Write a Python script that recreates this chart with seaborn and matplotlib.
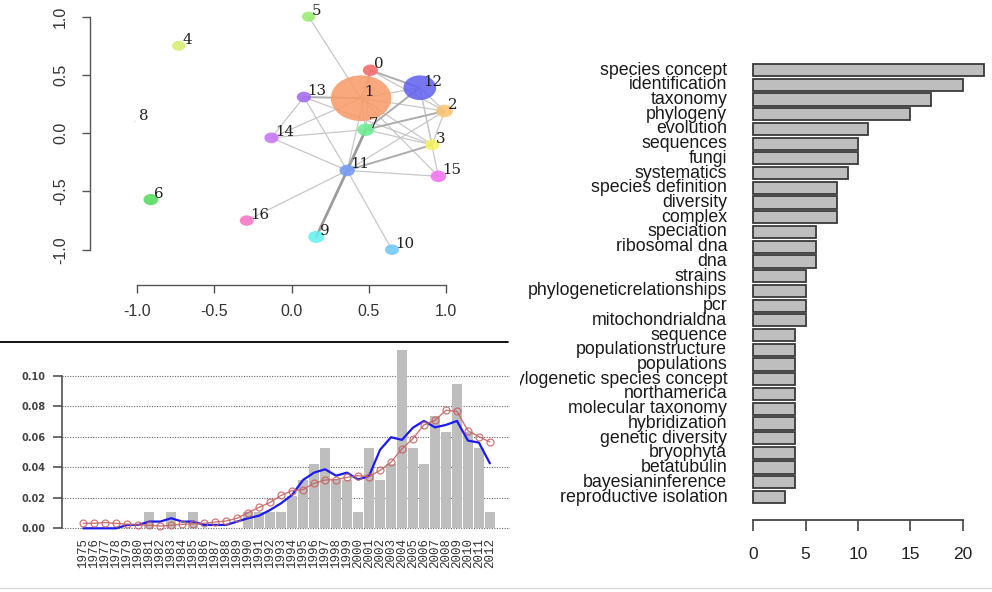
import numpy as np
import matplotlib
matplotlib.use("Agg")
import matplotlib.pyplot as plt
from matplotlib.patches import Circle
from matplotlib.lines import Line2D
from matplotlib.transforms import Bbox, TransformedBbox
import seaborn as sns

# ---------------- keyword co-occurrence network ----------------
node_x = [0.51, 0.45, 0.99, 0.91, -0.73, 0.11, -0.91, 0.48, -1.01, 0.16,
          0.65, 0.36, 0.83, 0.08, -0.13, 0.95, -0.29]
node_y = [0.54, 0.30, 0.19, -0.10, 0.75, 1.00, -0.57, 0.03, 0.10, -0.89,
          -1.00, -0.32, 0.39, 0.31, -0.04, -0.37, -0.75]
node_r = [0.049, 0.196, 0.054, 0.047, 0.043, 0.043, 0.048, 0.054, 0.004, 0.052,
          0.045, 0.050, 0.106, 0.046, 0.046, 0.050, 0.045]
node_colors = ["#F56A6A", "#F89C6A", "#F9C46E", "#F4F45E", "#D3F06E", "#96EE70",
               "#56DC5E", "#6CEC92", "#6CF0D6", "#64F2F2", "#72C8F6", "#7599F5",
               "#6363F0", "#A26AF0", "#C875F5", "#F472F0", "#F574C4"]
edge_src = [5, 0, 0, 0, 0, 0, 1, 1, 1, 1, 1, 1, 1, 12, 12, 12, 12,
            13, 13, 13, 14, 14, 7, 7, 7, 11, 11, 11, 11, 11, 11, 2]
edge_dst = [1, 1, 12, 2, 7, 11, 12, 13, 2, 7, 3, 15, 14, 2, 3, 15, 7,
            14, 11, 3, 7, 11, 2, 3, 11, 3, 2, 15, 9, 10, 16, 3]
edge_w = [1, 1, 2, 1, 1, 1, 1, 2, 1, 1, 1, 1, 1, 1, 1, 1, 2,
          1, 1, 1, 1, 1, 2, 1, 3, 2, 1, 1, 3, 1, 1, 1]
net_ticks = [-1.0, -0.5, 0.0, 0.5, 1.0]

# ---------------- yearly share of publications ----------------
years = list(range(1975, 2013))
share = [0, 0, 0, 0, 0, 0, 0.0105, 0, 0.0105, 0, 0.0105, 0, 0, 0, 0,
         0.0105, 0.0105, 0.0105, 0.0105, 0.021, 0.0316, 0.0421, 0.0526,
         0.0316, 0.0316, 0.0105, 0.0526, 0.0316, 0.0421, 0.1168, 0.0526,
         0.0421, 0.0737, 0.0632, 0.0947, 0.0632, 0.0526, 0.0105]
trend_blue = [0, 0, 0, 0, 0.0022, 0.0022, 0.0044, 0.0044, 0.0066, 0.0044,
              0.0044, 0.0022, 0.0022, 0.0022, 0.0044, 0.0066, 0.0083, 0.012,
              0.0164, 0.0219, 0.0317, 0.0365, 0.0387, 0.0345, 0.0365, 0.032,
              0.0343, 0.0514, 0.0597, 0.058, 0.066, 0.0704, 0.0662, 0.0678,
              0.0704, 0.0575, 0.0562, 0.0426]
trend_red = [0.0033, 0.0033, 0.0037, 0.0033, 0.0026, 0.0022, 0.002, 0.0015,
             0.002, 0.0026, 0.003, 0.0033, 0.0041, 0.0048, 0.0066, 0.0103,
             0.0138, 0.017, 0.0216, 0.0247, 0.0254, 0.0295, 0.0317, 0.0319,
             0.0334, 0.0345, 0.0339, 0.038, 0.0433, 0.0522, 0.0588, 0.0678,
             0.0708, 0.0774, 0.0767, 0.064, 0.0601, 0.0566]
share_ticks = [0.0, 0.02, 0.04, 0.06, 0.08, 0.10]

# ---------------- keyword frequencies ----------------
keywords = ["species concept", "identification", "taxonomy", "phylogeny",
            "evolution", "sequences", "fungi", "systematics",
            "species definition", "diversity", "complex", "speciation",
            "ribosomal dna", "dna", "strains", "phylogeneticrelationships",
            "pcr", "mitochondrialdna", "sequence", "populationstructure",
            "populations", "phylogenetic species concept", "northamerica",
            "molecular taxonomy", "hybridization", "genetic diversity",
            "bryophyta", "betatubulin", "bayesianinference",
            "reproductive isolation"]
counts = [22, 20, 17, 15, 11, 10, 10, 9, 8, 8, 8, 6, 6, 6, 5, 5, 5, 5,
          4, 4, 4, 4, 4, 4, 4, 4, 4, 4, 4, 3]
count_ticks = [0, 5, 10, 15, 20]

sns.set_theme(style="white")
plt.rcParams["font.family"] = ["Liberation Sans", "DejaVu Sans"]

W, H = 992, 592
fig = plt.figure(figsize=(W / 100, H / 100), dpi=100)


def box(left, top, right, bottom):
    return [left / W, 1 - bottom / H, (right - left) / W, (bottom - top) / H]


# ======== network panel ========
ax1 = fig.add_axes(box(90, 5, 460, 285))
ax1.set_xlim(-1.304, 1.09)
ax1.set_ylim(-1.303, 1.10)
for s, d, w in zip(edge_src, edge_dst, edge_w):
    lw = {1: 0.9, 2: 1.4, 3: 2.0}[w]
    col = {1: "#c8c8c8", 2: "#adadad", 3: "#9c9c9c"}[w]
    ax1.plot([node_x[s], node_x[d]], [node_y[s], node_y[d]],
             color=col, lw=lw, zorder=2, solid_capstyle="round")
for i, (x, y, r, c) in enumerate(zip(node_x, node_y, node_r, node_colors)):
    ax1.add_patch(Circle((x, y), r, facecolor=c, edgecolor="none",
                         alpha=0.88, zorder=3))
    ax1.annotate(str(i), (x, y), xytext=(2.5, 4.3), textcoords="offset points",
                 ha="left", va="center", fontfamily="DejaVu Serif",
                 fontsize=10.8, color="#222222", zorder=4)
for side in ["top", "right"]:
    ax1.spines[side].set_visible(False)
for side in ["left", "bottom"]:
    ax1.spines[side].set_color("#555555")
    ax1.spines[side].set_linewidth(1.0)
    ax1.spines[side].set_bounds(-1, 1)
ax1.set_xticks(net_ticks)
ax1.set_yticks(net_ticks)
ax1.set_xticklabels([f"{t:.1f}" for t in net_ticks])
ax1.set_yticklabels([f"{t:.1f}" for t in net_ticks])
ax1.tick_params(axis="both", direction="out", length=5.8, width=1.0,
                color="#555555", labelsize=11.5, labelcolor="#333333",
                bottom=True, left=True)
ax1.tick_params(axis="x", pad=8)
ax1.tick_params(axis="y", pad=10, labelrotation=90)
for lab in ax1.get_yticklabels():
    lab.set_va("center")
ax1.grid(False)

# ======== yearly share panel ========
ax2 = fig.add_axes(box(62, 345, 510, 535))
year_labels = [str(y) for y in years]
pos = np.arange(len(years))
sns.barplot(x=year_labels, y=share, color="#BEBEBE", saturation=1,
            width=0.93, edgecolor="none", ax=ax2, zorder=2)
sns.lineplot(x=pos, y=trend_blue, color="#1a1af2", linewidth=1.6,
             ax=ax2, zorder=3)
sns.lineplot(x=pos, y=trend_red, color="#c56060", linewidth=1.0, alpha=0.85,
             marker="o", markersize=5, markerfacecolor="none",
             markeredgecolor="#c56060", markeredgewidth=0.9, ax=ax2, zorder=4)
ax2.set_xlim(-1.94, 38.83)
ax2.set_ylim(-0.0044, 0.1202)
ax2.set_xlabel("")
ax2.set_ylabel("")
ax2.set_xticks(pos)
ax2.set_xticklabels(year_labels, rotation=90, fontfamily="Liberation Mono",
                    fontsize=9, color="#333333")
ax2.tick_params(axis="x", length=0, pad=2)
ax2.set_yticks(share_ticks)
ax2.set_yticklabels([f"{t:.2f}" for t in share_ticks],
                    fontfamily="DejaVu Sans", fontweight="bold",
                    fontsize=7, color="#444444")
ax2.tick_params(axis="y", direction="out", length=6.5, width=1.1,
                color="#444444", pad=5.5, left=True)
for side in ["top", "right", "bottom"]:
    ax2.spines[side].set_visible(False)
ax2.spines["left"].set_bounds(0, 0.1)
ax2.spines["left"].set_color("#444444")
ax2.spines["left"].set_linewidth(1.1)
ax2.xaxis.grid(False)
ax2.yaxis.grid(True, linestyle=(0, (1, 1.3)), color="#666666", linewidth=0.8)
ax2.set_axisbelow(True)

# ======== keyword frequency panel ========
ax3 = fig.add_axes(box(748, 55, 990, 520))
sns.barplot(x=counts, y=keywords, orient="h", color="#BEBEBE", saturation=1,
            edgecolor="#3a3a3a", linewidth=1.3, width=0.83, ax=ax3)
ax3.set_xlim(-0.506, 22.61)
ax3.set_ylim(30.56, -1.02)
ax3.set_xlabel("")
ax3.set_ylabel("")
for side in ["top", "right", "left"]:
    ax3.spines[side].set_visible(False)
ax3.spines["bottom"].set_bounds(0, 20)
ax3.spines["bottom"].set_color("#444444")
ax3.spines["bottom"].set_linewidth(1.3)
ax3.set_xticks(count_ticks)
ax3.set_xticklabels([str(t) for t in count_ticks])
ax3.tick_params(axis="x", direction="out", length=7.7, width=1.2,
                color="#444444", labelsize=12.5, labelcolor="#222222",
                pad=12, bottom=True)
ax3.tick_params(axis="y", length=0, pad=15, labelsize=12.8,
                labelcolor="#1a1a1a")
clip = TransformedBbox(Bbox([[520 / W, 0], [1, 1]]), fig.transFigure)
for lab in ax3.get_yticklabels():
    lab.set_va("center")
    lab.set_clip_box(clip)
    lab.set_clip_on(True)
ax3.grid(False)

# panel separators
fig.add_artist(Line2D([0, 508 / W], [1 - 342 / H] * 2, color="black", lw=1.3))
fig.add_artist(Line2D([0, 1], [1 - 588 / H] * 2, color="#d8d8d8", lw=1.0))

fig.savefig("out.png", dpi=100)
